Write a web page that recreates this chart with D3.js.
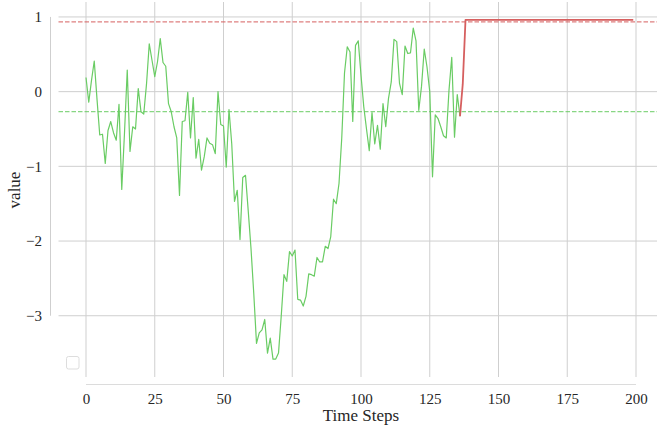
<!DOCTYPE html>
<html>
<head>
<meta charset="utf-8">
<script src="https://cdnjs.cloudflare.com/ajax/libs/d3/7.8.5/d3.min.js"></script>
<style>
  body { margin: 0; background: #fff; }
</style>
</head>
<body>
<svg id="chart"></svg>
<script>

// ************************************************************************************************** //
// Data

var xTicks = [0, 25, 50, 75, 100, 125, 150, 175, 200];
var yTicks = [1, 0, -1, -2, -3];

// green series, one value per time step starting at 0
var greenValues = [
  0.19, -0.14, 0.15, 0.41, -0.10, -0.58, -0.57, -0.96, -0.52, -0.40,
  -0.55, -0.65, -0.17, -1.31, -0.55, 0.29, -0.80, -0.47, -0.50, 0.04,
  -0.27, -0.30, 0.10, 0.64, 0.42, 0.20, 0.40, 0.71, 0.39, 0.34,
  -0.16, -0.27, -0.47, -0.62, -1.39, -0.40, -0.39, -0.01, -0.62, -0.08,
  -0.89, -0.64, -1.05, -0.87, -0.62, -0.69, -0.71, -0.83, 0.00, -0.44,
  -0.46, -1.01, -0.24, -0.70, -1.47, -1.32, -1.98, -1.15, -1.12, -1.60,
  -2.10, -2.70, -3.37, -3.23, -3.19, -3.05, -3.50, -3.30, -3.58, -3.58,
  -3.50, -3.00, -2.45, -2.54, -2.14, -2.20, -2.12, -2.78, -2.79, -2.87,
  -2.74, -2.44, -2.45, -2.47, -2.22, -2.28, -2.28, -2.07, -2.10, -1.94,
  -1.44, -1.50, -1.23, -0.62, 0.25, 0.60, 0.53, -0.40, 0.62, 0.68,
  0.22, -0.20, -0.50, -0.79, -0.28, -0.70, -0.45, -0.77, -0.16, -0.47,
  -0.09, 0.13, 0.70, 0.67, 0.11, -0.04, 0.61, 0.51, 0.52, 0.85,
  0.68, -0.25, 0.07, 0.57, 0.33, 0.00, -1.14, -0.31, -0.36, -0.47,
  -0.59, -0.62, 0.02, 0.46, -0.61, -0.04, -0.33
];

// red series (corner points)
var redSteps = [136, 137, 138, 199];
var redValues = [-0.33, 0.10, 0.96, 0.96];

// dashed reference levels
var redLevel = 0.933, greenLevel = -0.268;

// ************************************************************************************************** //
// Setup

var width = 657, height = 429;
var green = '#6acc64', red = '#d65f5f', gridColor = '#cfcfcf';
var serif = '"Liberation Serif", "Times New Roman", serif';

var x = d3.scaleLinear().domain([-10, 210]).range([58.5, 663.5]);
var y = d3.scaleLinear().domain([-3.82, 1.2]).range([377, 2]);

var line_gen = d3.line().x((d) => { return x(d.t) }).y((d) => { return y(d.v) });

var svg = d3.select('#chart').attr('width', width).attr('height', height)
  .style('font-family', serif);

// grid
svg.append('g').selectAll('line').data(xTicks).join('line')
  .attr('x1', (d) => x(d)).attr('x2', (d) => x(d))
  .attr('y1', y.range()[1]).attr('y2', y.range()[0])
  .attr('stroke', gridColor).attr('stroke-width', 1);

svg.append('g').selectAll('line').data(yTicks).join('line')
  .attr('x1', x.range()[0]).attr('x2', x.range()[1])
  .attr('y1', (d) => y(d)).attr('y2', (d) => y(d))
  .attr('stroke', gridColor).attr('stroke-width', 1);

// offset, trimmed spines
svg.append('line')
  .attr('x1', 50.5).attr('x2', 50.5)
  .attr('y1', y(d3.max(yTicks))).attr('y2', y(d3.min(yTicks)))
  .attr('stroke', gridColor).attr('stroke-width', 1);

svg.append('line')
  .attr('x1', x(d3.min(xTicks))).attr('x2', x(d3.max(xTicks)))
  .attr('y1', 384.5).attr('y2', 384.5)
  .attr('stroke', '#dcdcdc').attr('stroke-width', 1.2);

// tick labels
var yAxis = svg.append('g').attr('transform', 'translate(50,0)')
  .call(d3.axisLeft(y).tickValues(yTicks).tickSize(0).tickPadding(8).tickFormat(d3.format('d')));
var xAxis = svg.append('g').attr('transform', 'translate(0,384)')
  .call(d3.axisBottom(x).tickValues(xTicks).tickSize(0).tickPadding(9).tickFormat(d3.format('d')));

[yAxis, xAxis].forEach((a) => {
  a.attr('font-family', serif).attr('font-size', 15);
  a.select('.domain').remove();
  a.selectAll('text').attr('fill', '#262626');
});

// axis titles
svg.append('text').attr('x', x(100)).attr('y', 421)
  .attr('text-anchor', 'middle').attr('font-size', 17).attr('fill', '#262626')
  .text('Time Steps');

svg.append('text').attr('transform', 'translate(20,190) rotate(-90)')
  .attr('text-anchor', 'middle').attr('font-size', 17).attr('fill', '#262626')
  .text('value');

// dashed reference lines
svg.append('line')
  .attr('x1', x.range()[0]).attr('x2', x.range()[1])
  .attr('y1', y(redLevel)).attr('y2', y(redLevel))
  .attr('stroke', red).attr('stroke-opacity', 0.8).attr('stroke-width', 1.3)
  .attr('stroke-dasharray', '4.5,2');

svg.append('line')
  .attr('x1', x.range()[0]).attr('x2', x.range()[1])
  .attr('y1', y(greenLevel)).attr('y2', y(greenLevel))
  .attr('stroke', green).attr('stroke-opacity', 0.8).attr('stroke-width', 1.3)
  .attr('stroke-dasharray', '4.5,2');

// series
var greenData = greenValues.map((v, i) => { return { t: i, v: v } });
var redData = redSteps.map((t, i) => { return { t: t, v: redValues[i] } });

svg.append('path').datum(greenData)
  .attr('d', line_gen).attr('fill', 'none')
  .attr('stroke', green).attr('stroke-width', 1.2).attr('stroke-linejoin', 'round');

svg.append('path').datum(redData)
  .attr('d', line_gen).attr('fill', 'none')
  .attr('stroke', red).attr('stroke-width', 1.8).attr('stroke-linejoin', 'round');

// empty legend box
svg.append('rect')
  .attr('x', 66.5).attr('y', 356.5).attr('width', 12.5).attr('height', 12.5).attr('rx', 2)
  .attr('fill', '#fff').attr('fill-opacity', 0.8)
  .attr('stroke', '#dddddd').attr('stroke-width', 1);

</script>
</body>
</html>
